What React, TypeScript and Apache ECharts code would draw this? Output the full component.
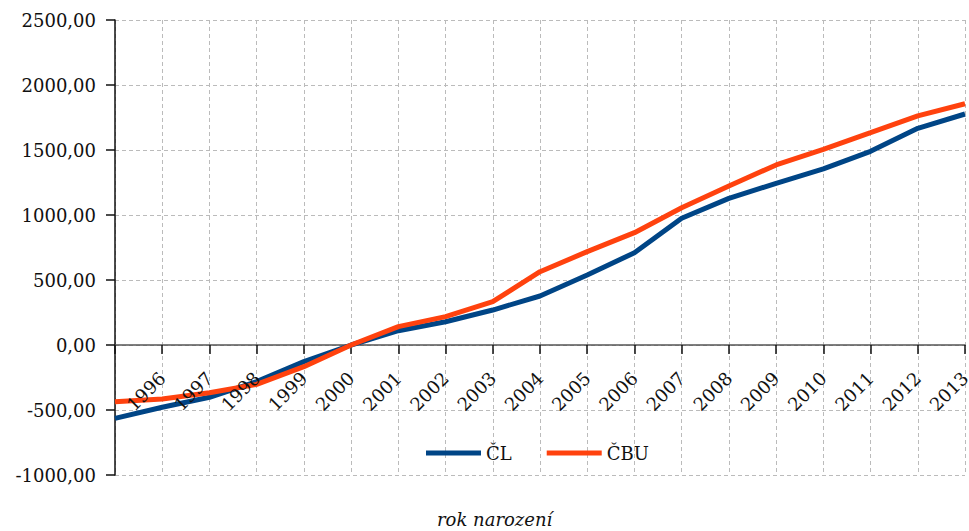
import React, { useEffect, useRef } from "react";
import * as echarts from "echarts";

const years = ["1995", "1996", "1997", "1998", "1999", "2000", "2001", "2002", "2003", "2004", "2005", "2006", "2007", "2008", "2009", "2010", "2011", "2012", "2013"];
const seriesCL = [-564, -479, -402, -282, -128, 0, 110, 179, 269, 377, 538, 710, 975, 1128, 1244, 1355, 1490, 1667, 1777];
const seriesCBU = [-436, -415, -367, -303, -167, 0, 141, 218, 333, 564, 718, 864, 1056, 1223, 1385, 1505, 1633, 1762, 1856];
const yTicks = { min: -1000, max: 2500, interval: 500 };
const xAxisTitle = "rok narození";

const FONT = "DejaVu Serif";

export default function App() {
  const ref = useRef<HTMLDivElement>(null);
  useEffect(() => {
    if (!ref.current) return;
    const chart = echarts.init(ref.current, null, { renderer: "svg" });
    const labelStyle = {
      rotate: 45,
      interval: (index: number) => index !== 0,
      margin: 30,
      verticalAlign: "middle",
      lineHeight: 11,
      fontFamily: FONT,
      fontSize: 18,
      color: "#111",
    };
    chart.setOption({
      animation: false,
      textStyle: { fontFamily: FONT },
      grid: { left: 115, right: 4, top: 20, bottom: 56, containLabel: false, outerBoundsMode: "none" },
      legend: {
        left: 421,
        top: 439,
        icon: "rect",
        itemWidth: 55,
        itemHeight: 5,
        itemGap: 35,
        textStyle: { fontFamily: FONT, fontSize: 18, color: "#111" },
        data: ["ČL", "ČBU"],
      },
      xAxis: [
        {
          type: "category",
          data: years,
          boundaryGap: false,
          offset: -130,
          axisLine: { onZero: false, lineStyle: { color: "#555", width: 1.5 } },
          axisTick: { show: true, length: 9, interval: 0, lineStyle: { color: "#111", width: 1.5 } },
          axisLabel: { ...labelStyle, show: false },
          splitLine: { show: true, interval: 0, lineStyle: { color: "#bbb", type: [4, 3], width: 1 } },
        },
        {
          type: "category",
          data: years,
          boundaryGap: false,
          position: "bottom",
          offset: -130,
          z: 10,
          axisLine: { show: false, onZero: false },
          axisTick: { show: false },
          splitLine: { show: false },
          axisLabel: labelStyle,
        },
      ],
      yAxis: {
        type: "value",
        min: yTicks.min,
        max: yTicks.max,
        interval: yTicks.interval,
        axisLine: { show: true, onZero: false, lineStyle: { color: "#111", width: 1.5 } },
        axisTick: { show: true, length: 9, lineStyle: { color: "#111", width: 1.5 } },
        axisLabel: {
          margin: 19,
          fontFamily: FONT,
          fontSize: 18,
          color: "#111",
          formatter: (v: number) => v.toFixed(2).replace(".", ","),
        },
        splitLine: { show: true, lineStyle: { color: "#bbb", type: [4, 3], width: 1 } },
      },
      graphic: [
        {
          type: "text",
          left: 437,
          top: 510,
          style: {
            text: xAxisTitle,
            font: `italic 18px '${FONT}'`,
            fill: "#111",
          },
        },
      ],
      series: [
        {
          name: "ČL",
          type: "line",
          data: seriesCL,
          showSymbol: false,
          symbol: "none",
          lineStyle: { color: "#004586", width: 5 },
          itemStyle: { color: "#004586" },
        },
        {
          name: "ČBU",
          type: "line",
          data: seriesCBU,
          showSymbol: false,
          symbol: "none",
          lineStyle: { color: "#ff420e", width: 5 },
          itemStyle: { color: "#ff420e" },
        },
      ],
    });
    return () => chart.dispose();
  }, []);
  return <div ref={ref} style={{ width: 969, height: 531, position: "absolute", left: 0, top: 0 }} />;
}
